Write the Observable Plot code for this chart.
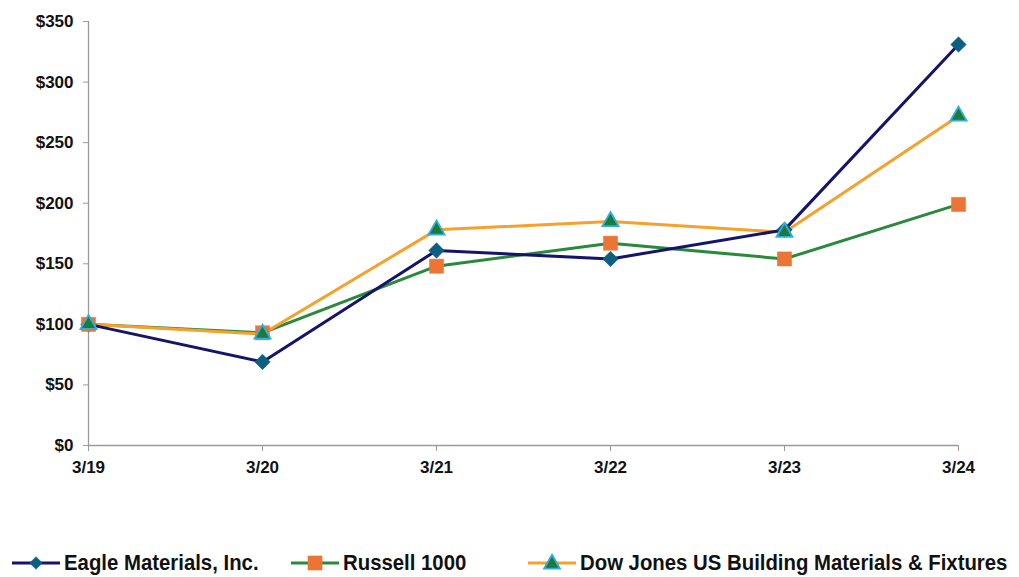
<!DOCTYPE html>
<html><head><meta charset="utf-8">
<script src="https://cdn.jsdelivr.net/npm/d3@7"></script>
<script src="https://cdn.jsdelivr.net/npm/@observablehq/plot@0.6"></script>
<style>
body{margin:0;background:#fff;font-family:"Liberation Sans",Arial,sans-serif;overflow:hidden;}
#legend{position:relative;height:77px;font-family:"Liberation Sans",Arial,sans-serif;font-weight:bold;font-size:22px;line-height:24px;color:#111;}
.item{position:absolute;top:51px;display:flex;align-items:center;white-space:nowrap;}
.item svg{margin-right:2px;}
.item span{display:inline-block;transform:scaleX(0.925);transform-origin:left center;}
</style></head>
<body>
<div id="chart"></div>
<div id="legend"></div>
<script>
const periods = ["3/19","3/20","3/21","3/22","3/23","3/24"];
const eagle = [100, 69, 161, 154, 178, 331];
const russell = [100, 93, 148, 167, 154, 199];
const dowJones = [100, 92, 178, 185, 176, 272];
const yTicks = [0, 50, 100, 150, 200, 250, 300, 350];

const seriesNames = ["Eagle Materials, Inc.", "Russell 1000", "Dow Jones US Building Materials & Fixtures"];
const rows = s => periods.map((p, i) => ({period: p, value: s[i]}));
const E = rows(eagle), R = rows(russell), D = rows(dowJones);

const axisColor = "#9a9a9a";
const plot = Plot.plot({
  width: 1019, height: 500,
  marginLeft: 88, marginRight: 61, marginTop: 21, marginBottom: 55,
  style: {fontFamily: "'Liberation Sans', Arial, sans-serif", fontWeight: "bold", fontSize: "17px", color: "#111", background: "#fff"},
  x: {type: "point", domain: periods, padding: 0, label: null},
  y: {domain: [0, 350], label: null},
  marks: [
    Plot.ruleX([periods[0]], {stroke: axisColor, strokeWidth: 1.3}),
    Plot.ruleY([0], {stroke: axisColor, strokeWidth: 1.3}),
    Plot.axisY({ticks: yTicks, tickFormat: d => "$" + d, tickSize: 5, tickPadding: 10, stroke: axisColor, fontSize: 17, label: null}),
    Plot.axisX({tickSize: 6, tickPadding: 9, stroke: axisColor, fontSize: 17, label: null}),
    Plot.line(R, {x: "period", y: "value", stroke: "#2a8a3b", strokeWidth: 3}),
    Plot.line(D, {x: "period", y: "value", stroke: "#f7a12a", strokeWidth: 3}),
    Plot.line(E, {x: "period", y: "value", stroke: "#14146b", strokeWidth: 3}),
    Plot.dot(E, {x: "period", y: "value", symbol: "diamond2", r: 7, fill: "#0c5f80", stroke: "#0c5f80", strokeWidth: 0.5}),
    Plot.dot(R, {x: "period", y: "value", symbol: "square", r: 8, fill: "#ec7536", stroke: "#ec7536", strokeWidth: 0.5}),
    Plot.dot(D, {x: "period", y: "value", symbol: "triangle", r: 6, fill: "#1d7a3b", stroke: "#2fb0dc", strokeWidth: 1.8})
  ]
});
document.getElementById("chart").appendChild(plot);

// legend
const legend = d3.select("#legend");
const items = [
  {name: seriesNames[0], left: 10, line: "#14146b", sym: "diamond", fill: "#0c5f80", stroke: "#0c5f80"},
  {name: seriesNames[1], left: 289, line: "#2a8a3b", sym: "square", fill: "#ec7536", stroke: "#ec7536"},
  {name: seriesNames[2], left: 526, line: "#f7a12a", sym: "triangle", fill: "#1d7a3b", stroke: "#2fb0dc"}
];
items.forEach(it => {
  const div = legend.append("div").attr("class", "item").style("left", it.left + "px");
  const s = div.append("svg").attr("width", 52).attr("height", 20);
  s.append("line").attr("x1", 2).attr("x2", 50).attr("y1", 10).attr("y2", 10).attr("stroke", it.line).attr("stroke-width", 3);
  const symType = it.sym === "triangle" ? d3.symbolTriangle : d3.symbolSquare;
  const size = it.sym === "diamond" ? 80 : it.sym === "square" ? 200 : 110;
  s.append("path").attr("d", d3.symbol(symType, size)())
    .attr("transform", `translate(26,${it.sym === "triangle" ? 11 : 10})` + (it.sym === "diamond" ? " rotate(45)" : ""))
    .attr("fill", it.fill).attr("stroke", it.stroke).attr("stroke-width", it.sym === "triangle" ? 1.8 : 0.5);
  div.append("span").text(it.name);
});
</script>
</body></html>
